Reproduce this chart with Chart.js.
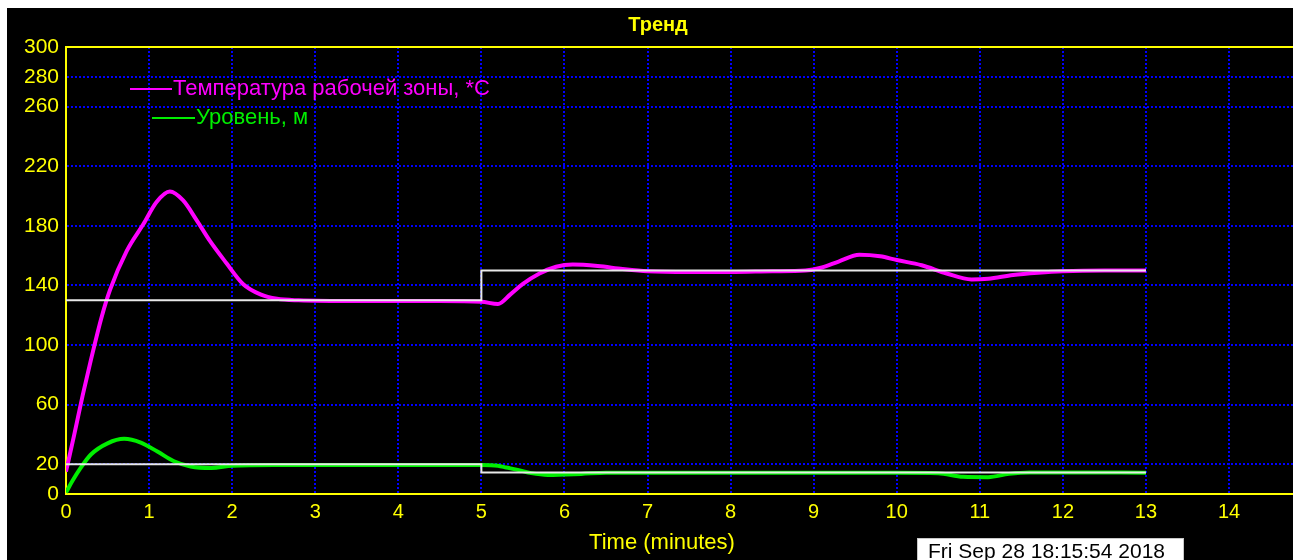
<!DOCTYPE html>
<html>
<head>
<meta charset="utf-8">
<title>Тренд</title>
<script src="https://cdn.jsdelivr.net/npm/chart.js@4/dist/chart.umd.min.js"></script>
<style>
  html, body { margin: 0; padding: 0; background: #fff; overflow: hidden; }
  #wrap { position: absolute; left: 7px; top: 8px; width: 1286px; height: 552px; background: #000; }
  #stamp {
    position: absolute; left: 917px; top: 538px; width: 267px; height: 22px;
    background: #fff; border: 1px solid #c8c8c8; border-bottom: none; box-sizing: border-box;
    font: 21px "Liberation Sans", Arial, sans-serif; color: #000; line-height: 24px; padding-left: 10px;
    white-space: nowrap;
  }
</style>
</head>
<body>
<div id="wrap"><canvas id="trend" width="1286" height="552"></canvas></div>
<div id="stamp">Fri Sep 28 18:15:54 2018</div>
<script>
// time axis, minutes
const tempT = [0, 0.1, 0.2, 0.3, 0.43, 0.53, 0.73, 0.93, 1.09, 1.25, 1.41, 1.57, 1.73, 1.93, 2.13, 2.34, 2.54, 2.8, 3.5, 4.5, 5.0,
  5.2, 5.35, 5.5, 5.7, 5.9, 6.1, 6.4, 6.7, 7.0, 7.5, 8.0, 8.5, 8.9, 9.1, 9.3, 9.55, 9.8, 10.0, 10.3, 10.6, 10.9, 11.1, 11.4, 11.7, 12.0, 12.5, 13.0];
const tempVals = [15, 40, 66, 90, 119, 137, 163, 181, 196, 203, 197, 184, 170, 155, 141, 134, 131, 130, 129.5, 129.5, 129,
  127.5, 134, 141, 148, 152.5, 154, 153, 151, 149.5, 149, 149, 149.5, 150, 152, 156, 160.5, 159.5, 157, 153.5, 148, 144, 144.5, 147, 148.5, 149.5, 150, 150];

const levelT = [0, 0.08, 0.17, 0.3, 0.5, 0.7, 0.9, 1.1, 1.3, 1.5, 1.75, 2.0, 2.5, 3.5, 4.5, 5.0,
  5.2, 5.3, 5.45, 5.6, 5.8, 6.2, 6.5, 7.0, 8.0, 9.0, 10.0, 10.5, 10.8, 11.1, 11.35, 11.6, 12.0, 13.0];
const levelVals = [1, 9, 17, 26.5, 34, 37, 34.5, 28.5, 22, 18.5, 17.5, 19, 19.5, 19.5, 19.5, 19.5,
  19, 17.8, 16, 14, 12.8, 13.5, 14.3, 14.3, 14.3, 14.3, 14.3, 14, 11.5, 11.3, 13.5, 14.5, 14.5, 14.3];

// setpoints
const spT = [0, 5, 5, 13];
const tempSp = [130, 130, 150, 150];
const levelSp = [20, 20, 14.5, 14.5];

const xTicks = [0, 1, 2, 3, 4, 5, 6, 7, 8, 9, 10, 11, 12, 13, 14];
const yTicks = [0, 20, 60, 100, 140, 180, 220, 260, 280, 300];

const YELLOW = '#ffff00';
const GRID = '#0000ff';
const FONT = '"Liberation Sans", Arial, sans-serif';

const pts = (xs, ys) => xs.map((x, i) => ({x: x, y: ys[i]}));

// frame top line, legend and titles
const decor = {
  id: 'decor',
  afterDraw(chart) {
    const ctx = chart.ctx;
    const a = chart.chartArea;
    ctx.save();
    ctx.strokeStyle = YELLOW;
    ctx.lineWidth = 2;
    ctx.beginPath();
    ctx.moveTo(a.left, a.top);
    ctx.lineTo(a.right, a.top);
    ctx.stroke();

    const items = [
      {ds: chart.data.datasets[0], x0: a.left + 64, x1: a.left + 106, y: a.top + 42},
      {ds: chart.data.datasets[1], x0: a.left + 86, x1: a.left + 129, y: a.top + 71}
    ];
    ctx.font = '22px ' + FONT;
    ctx.textBaseline = 'middle';
    ctx.textAlign = 'left';
    items.forEach(it => {
      ctx.strokeStyle = it.ds.borderColor;
      ctx.lineWidth = 2;
      ctx.beginPath();
      ctx.moveTo(it.x0, it.y);
      ctx.lineTo(it.x1, it.y);
      ctx.stroke();
      ctx.fillStyle = it.ds.borderColor;
      ctx.fillText(it.ds.label, it.x1 + 1, it.y);
    });

    ctx.fillStyle = YELLOW;
    ctx.textAlign = 'center';
    ctx.font = 'bold 20px ' + FONT;
    ctx.fillText('Тренд', 651, 17);
    ctx.font = '22px ' + FONT;
    ctx.fillText('Time (minutes)', 655, 535);
    ctx.restore();
  }
};

const gridColor = list => c => (c.tick && list.includes(c.tick.value) && c.tick.value > 0 && c.tick.value < 300) ? GRID : 'rgba(0,0,0,0)';

new Chart(document.getElementById('trend').getContext('2d'), {
  type: 'line',
  data: {
    datasets: [
      {label: 'Температура рабочей зоны, *C', data: pts(tempT, tempVals), borderColor: '#ff00ff', borderWidth: 4,
        cubicInterpolationMode: 'monotone', order: 3},
      {label: 'Уровень, м', data: pts(levelT, levelVals), borderColor: '#00ee00', borderWidth: 4,
        cubicInterpolationMode: 'monotone', order: 4},
      {label: 'sp1', data: pts(spT, tempSp), borderColor: '#e8e8e8', borderWidth: 2, tension: 0, order: 1},
      {label: 'sp2', data: pts(spT, levelSp), borderColor: '#e8e8e8', borderWidth: 2, tension: 0, order: 2}
    ]
  },
  options: {
    responsive: false,
    animation: false,
    elements: {point: {radius: 0}, line: {fill: false}},
    layout: {padding: {top: 39, right: 0, left: 0, bottom: 0}},
    plugins: {legend: {display: false}, tooltip: {enabled: false}, title: {display: false}},
    scales: {
      x: {
        type: 'linear', min: 0, max: 14.77,
        afterFit: s => { s.height = 66; },
        border: {color: YELLOW, width: 2, dash: [2, 2]},
        grid: {drawTicks: false, lineWidth: 2, color: gridColor(xTicks)},
        ticks: {stepSize: 1, includeBounds: false, color: YELLOW, padding: 6, font: {family: FONT, size: 20},
          maxRotation: 0, autoSkip: false, callback: v => xTicks.includes(v) ? String(v) : ''}
      },
      y: {
        min: 0, max: 300,
        afterFit: s => { s.width = 59; },
        border: {color: YELLOW, width: 2, dash: [2, 2]},
        grid: {drawTicks: false, lineWidth: 2, color: gridColor(yTicks)},
        ticks: {stepSize: 20, color: YELLOW, padding: 7, font: {family: FONT, size: 21}, autoSkip: false,
          callback: v => yTicks.includes(v) ? String(v) : ''}
      }
    }
  },
  plugins: [decor]
});
</script>
</body>
</html>
